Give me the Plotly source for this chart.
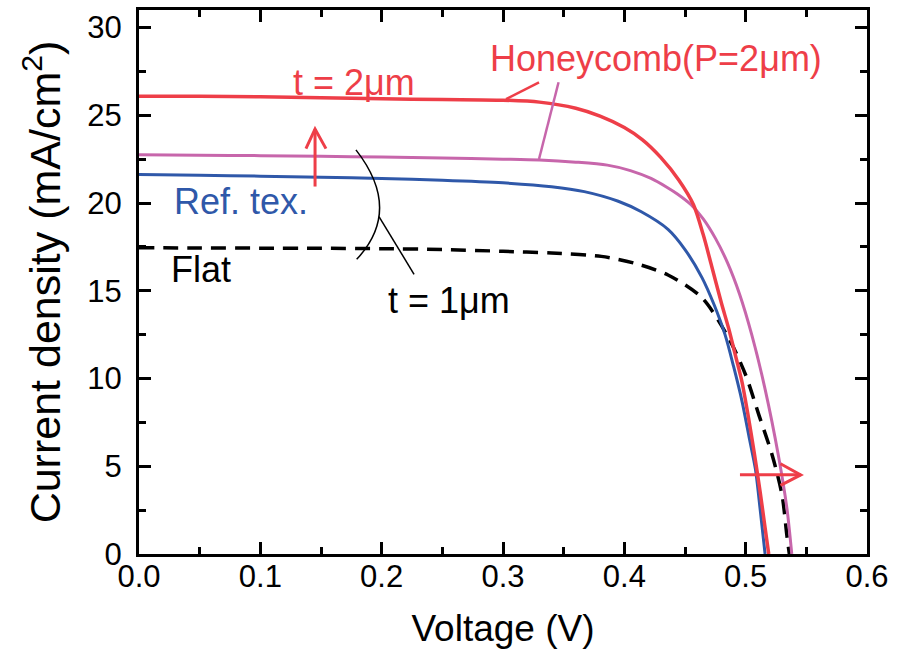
import plotly.graph_objects as go

# ---- data ----
v_red = [0, 0.05, 0.1, 0.15, 0.2, 0.25, 0.3, 0.33, 0.36, 0.38, 0.40, 0.415, 0.43, 0.445,
         0.457, 0.465, 0.472, 0.48, 0.486, 0.492, 0.497, 0.502, 0.507, 0.512, 0.516, 0.519]
j_red = [26.09, 26.08, 26.05, 26.0, 25.94, 25.9, 25.86, 25.75, 25.4, 24.95, 24.3, 23.6, 22.6, 21.3,
         19.9, 18.2, 16.4, 14.3, 12.85, 11.2, 9.8, 7.9, 5.8, 3.5, 1.5, 0]

v_pink = [0, 0.05, 0.1, 0.15, 0.2, 0.25, 0.3, 0.33, 0.36, 0.386, 0.405, 0.422, 0.435, 0.444,
          0.455, 0.465, 0.475, 0.485, 0.495, 0.505, 0.516, 0.527, 0.534, 0.538]
j_pink = [22.75, 22.72, 22.7, 22.66, 22.62, 22.56, 22.5, 22.45, 22.33, 22.16, 21.85, 21.4, 20.9, 20.5,
          19.9, 19.1, 18.0, 16.6, 14.8, 12.5, 9.4, 5.6, 2.6, 0]

v_blue = [0, 0.05, 0.1, 0.15, 0.2, 0.25, 0.3, 0.34, 0.367, 0.395, 0.414, 0.436, 0.45, 0.464,
          0.474, 0.483, 0.49, 0.497, 0.503, 0.508, 0.512, 0.516]
j_blue = [21.63, 21.58, 21.53, 21.47, 21.4, 21.3, 21.15, 20.93, 20.65, 20.1, 19.5, 18.5, 17.35, 15.75,
          14.2, 12.5, 10.7, 8.7, 6.6, 4.85, 2.5, 0]

v_flat = [0, 0.05, 0.1, 0.15, 0.2, 0.25, 0.3, 0.34, 0.381, 0.409, 0.436, 0.464, 0.486, 0.5,
          0.511, 0.522, 0.53, 0.534, 0.536]
j_flat = [17.45, 17.44, 17.43, 17.42, 17.4, 17.35, 17.25, 17.15, 16.96, 16.56, 15.9, 14.6, 12.3, 10.2,
          7.9, 5.6, 3.35, 1.04, 0]

x_ticks = [0.0, 0.1, 0.2, 0.3, 0.4, 0.5, 0.6]
x_tick_labels = ["0.0", "0.1", "0.2", "0.3", "0.4", "0.5", "0.6"]
y_ticks = [0, 5, 10, 15, 20, 25, 30]

RED = "#EE3E48"
PINK = "#C766AB"
BLUE = "#2F58A9"
FONT = "Liberation Sans, Arial, sans-serif"
SM = 0.8

fig = go.Figure()
fig.add_trace(go.Scatter(x=v_flat, y=j_flat, mode="lines",
                         line=dict(color="black", width=3.5, dash="15px,9px", shape="spline", smoothing=SM),
                         showlegend=False))
fig.add_trace(go.Scatter(x=v_blue, y=j_blue, mode="lines",
                         line=dict(color=BLUE, width=3, shape="spline", smoothing=SM), showlegend=False))
fig.add_trace(go.Scatter(x=v_pink, y=j_pink, mode="lines",
                         line=dict(color=PINK, width=3, shape="spline", smoothing=SM), showlegend=False))
fig.add_trace(go.Scatter(x=v_red, y=j_red, mode="lines",
                         line=dict(color=RED, width=3.5, shape="spline", smoothing=SM), showlegend=False))

shapes = []
# leader lines for Honeycomb label
shapes.append(dict(type="line", xref="x", yref="y", x0=0.3025, y0=25.92, x1=0.3297, y1=26.88,
                   line=dict(color=RED, width=2.5)))
shapes.append(dict(type="line", xref="x", yref="y", x0=0.3297, y0=22.51, x1=0.3458, y1=26.88,
                   line=dict(color=PINK, width=2.5)))
# up arrow
shapes.append(dict(type="line", xref="x", yref="y", x0=0.1451, y0=20.94, x1=0.1451, y1=24.22,
                   line=dict(color=RED, width=3)))
shapes.append(dict(type="path", xref="x", yref="y",
                   path="M 0.1376,23.1 L 0.1451,24.22 L 0.1541,23.1",
                   line=dict(color=RED, width=3)))
# right arrow
shapes.append(dict(type="line", xref="x", yref="y", x0=0.4953, y0=4.51, x1=0.5454, y1=4.51,
                   line=dict(color=RED, width=3)))
shapes.append(dict(type="path", xref="x", yref="y",
                   path="M 0.5287,5.14 L 0.5454,4.51 L 0.5287,3.91",
                   line=dict(color=RED, width=3)))
# arc + leader for t = 1um
shapes.append(dict(type="path", xref="x", yref="y",
                   path="M 0.1788,23.03 Q 0.2175,19.6 0.1794,16.79",
                   line=dict(color="black", width=1.5)))
shapes.append(dict(type="line", xref="x", yref="y", x0=0.1978, y0=19.23, x1=0.2267, y1=15.94,
                   line=dict(color="black", width=1.5)))

ann_font = 36
annotations = [
    dict(x=0.1772, y=26.88, text="t = 2μm", font=dict(color=RED, size=ann_font, family=FONT)),
    dict(x=0.4257, y=28.21, text="Honeycomb(P=2μm)", font=dict(color=RED, size=ann_font, family=FONT)),
    dict(x=0.0837, y=20.09, text="Ref. tex.", font=dict(color=BLUE, size=ann_font, family=FONT)),
    dict(x=0.0515, y=16.22, text="Flat", font=dict(color="black", size=ann_font, family=FONT)),
    dict(x=0.2551, y=14.42, text="t = 1μm", font=dict(color="black", size=ann_font, family=FONT)),
]
for a in annotations:
    a.update(xref="x", yref="y", showarrow=False, xanchor="center", yanchor="middle")

axis_common = dict(showline=True, linecolor="black", linewidth=3, mirror="allticks",
                   ticks="inside", ticklen=12, tickwidth=2.5, tickcolor="black",
                   showgrid=False, zeroline=False,
                   tickfont=dict(size=31, color="black", family=FONT))

fig.update_layout(
    width=904, height=657,
    margin=dict(l=139, r=37, t=7, b=103),
    paper_bgcolor="white", plot_bgcolor="white",
    shapes=shapes, annotations=annotations,
    xaxis=dict(range=[0, 0.6], tickvals=x_ticks, ticktext=x_tick_labels,
               minor=dict(dtick=0.05, ticks="inside", ticklen=7, tickwidth=2.5, tickcolor="black"),
               ticklabelstandoff=-7,
               title=dict(text="Voltage (V)", font=dict(size=37, color="black", family=FONT), standoff=22),
               **axis_common),
    yaxis=dict(range=[0, 31], tickvals=y_ticks,
               minor=dict(dtick=2.5, ticks="inside", ticklen=7, tickwidth=2.5, tickcolor="black"),
               ticklabelstandoff=8,
               title=dict(text="Current density (mA/cm<sup>2</sup>)",
                          font=dict(size=43, color="black", family=FONT), standoff=14),
               **axis_common),
)

fig.write_html("out.html", config={"displayModeBar": False},
               post_script="document.body.style.margin='0';document.body.style.overflow='hidden';")
